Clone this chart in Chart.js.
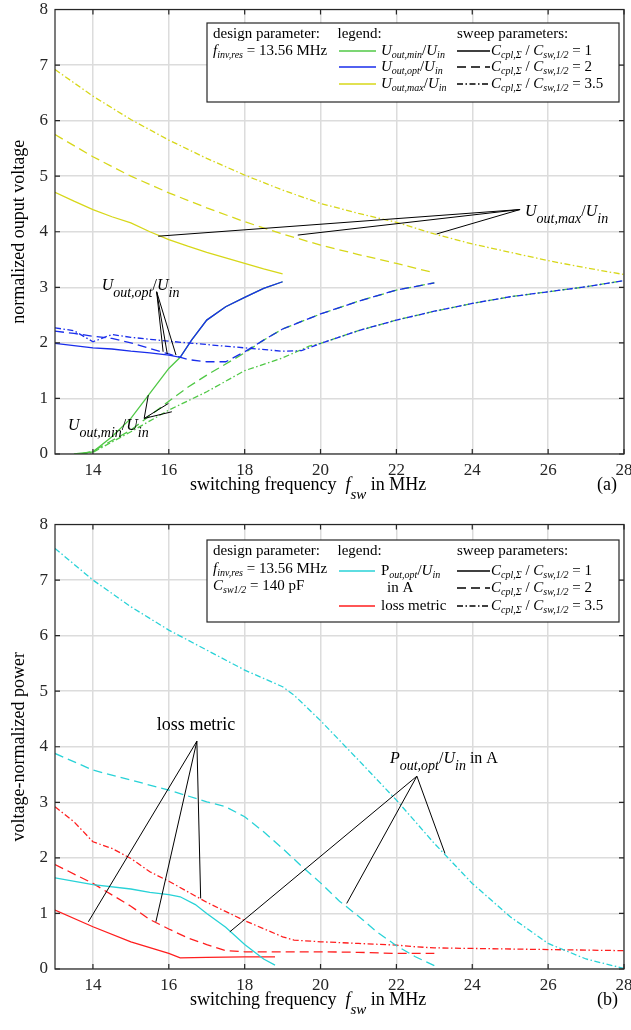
<!DOCTYPE html>
<html>
<head>
<meta charset="utf-8">
<script src="https://cdn.jsdelivr.net/npm/chart.js@4.4.0/dist/chart.umd.min.js"></script>
<style>
html, body { margin: 0; padding: 0; background: #fff; overflow: hidden; }
.box { position: relative; width: 631px; height: 515px; }
</style>
</head>
<body>
<div class="box"><canvas id="chartA"></canvas></div>
<div class="box"><canvas id="chartB"></canvas></div>
<script>
// axis ticks
const freqTicks = [14, 16, 18, 20, 22, 24, 26, 28];
const levelTicks = [0, 1, 2, 3, 4, 5, 6, 7, 8];

// (a) U_out,max / U_in
const umaxF1 = [13, 13.5, 14, 14.5, 15, 15.5, 16, 16.5, 17, 17.5, 18, 18.5, 19];
const umax1 = [4.71, 4.55, 4.40, 4.27, 4.16, 4.00, 3.86, 3.74, 3.63, 3.53, 3.43, 3.33, 3.24];
const umaxF2 = [13, 14, 15, 16, 17, 18, 19, 20, 21, 22, 23];
const umax2 = [5.75, 5.35, 5.00, 4.70, 4.43, 4.18, 3.96, 3.76, 3.59, 3.43, 3.26];
const umaxF35 = [13, 14, 15, 16, 17, 18, 19, 20, 21, 22, 23, 24, 25, 26, 27, 28];
const umax35 = [6.92, 6.44, 6.02, 5.65, 5.32, 5.02, 4.75, 4.51, 4.33, 4.17, 3.96, 3.78, 3.63, 3.48, 3.35, 3.23];

// (a) U_out,opt / U_in
const uoptF1 = [13, 13.5, 14, 14.5, 15, 15.5, 16, 16.3, 16.6, 17, 17.5, 18, 18.5, 19];
const uopt1 = [1.99, 1.95, 1.91, 1.89, 1.85, 1.82, 1.78, 1.74, 2.05, 2.41, 2.65, 2.82, 2.98, 3.10];
const uoptF2 = [13, 13.5, 14, 14.5, 15, 15.5, 16, 16.5, 17, 17.5, 18, 18.5, 19, 20, 21, 22, 23];
const uopt2 = [2.21, 2.17, 2.12, 2.08, 2.00, 1.90, 1.80, 1.70, 1.66, 1.66, 1.84, 2.05, 2.25, 2.52, 2.75, 2.95, 3.08];
const uoptF35 = [13, 13.5, 14, 14.5, 15, 16, 17, 18, 19, 19.5, 20, 21, 22, 23, 24, 25, 26, 27, 28];
const uopt35 = [2.27, 2.22, 2.02, 2.15, 2.10, 2.03, 1.97, 1.91, 1.85, 1.86, 1.99, 2.22, 2.41, 2.57, 2.71, 2.83, 2.92, 3.01, 3.12];

// (a) U_out,min / U_in
const uminF1 = [13.5, 14, 14.5, 15, 15.5, 16, 16.3, 16.6, 17, 17.5, 18, 18.5, 19];
const umin1 = [0.00, 0.04, 0.31, 0.64, 1.09, 1.54, 1.74, 2.05, 2.41, 2.65, 2.82, 2.98, 3.10];
const uminF2 = [13.7, 14, 15, 16, 16.5, 17, 17.5, 18, 18.5, 19, 20, 21, 22, 23];
const umin2 = [0.00, 0.05, 0.43, 0.95, 1.20, 1.42, 1.62, 1.82, 2.05, 2.25, 2.52, 2.75, 2.95, 3.08];
const uminF35 = [13.7, 14, 15, 16, 17, 18, 19, 19.7, 20, 21, 22, 23, 24, 25, 26, 27, 28];
const umin35 = [0.00, 0.03, 0.40, 0.79, 1.12, 1.50, 1.73, 1.94, 1.99, 2.22, 2.41, 2.57, 2.71, 2.83, 2.92, 3.01, 3.12];

// (b) P_out,opt / U_in in A
const poutF1 = [13, 14, 15, 15.5, 16, 16.3, 16.7, 17, 17.5, 18, 18.5, 18.8];
const pout1 = [1.64, 1.52, 1.44, 1.38, 1.34, 1.30, 1.16, 1.00, 0.75, 0.44, 0.18, 0.07];
const poutF2 = [13, 14, 15, 16, 17, 17.5, 18, 18.5, 19, 19.5, 20, 20.5, 21, 21.5, 22, 22.5, 23];
const pout2 = [3.88, 3.58, 3.40, 3.22, 3.01, 2.92, 2.74, 2.47, 2.17, 1.85, 1.55, 1.22, 0.95, 0.66, 0.42, 0.22, 0.06];
const poutF35 = [13, 14, 15, 16, 17, 18, 19, 19.3, 20, 21, 22, 23, 24, 25, 26, 27, 28];
const pout35 = [7.57, 7.00, 6.52, 6.10, 5.74, 5.38, 5.08, 4.93, 4.47, 3.76, 3.04, 2.26, 1.54, 0.94, 0.46, 0.18, 0.01];

// (b) loss metric
const lossF1 = [13, 14, 15, 16, 16.3, 17, 18, 18.8];
const loss1 = [1.06, 0.76, 0.49, 0.28, 0.20, 0.21, 0.22, 0.22];
const lossF2 = [13, 14, 15, 15.5, 16, 16.5, 17, 17.5, 18, 19, 20, 21, 22, 23];
const loss2 = [1.88, 1.54, 1.13, 0.89, 0.72, 0.56, 0.44, 0.33, 0.31, 0.31, 0.31, 0.30, 0.28, 0.28];
const lossF35 = [13, 13.5, 14, 14.5, 15, 15.5, 16, 17, 18, 19, 19.3, 20, 21, 22, 22.5, 23, 24, 25, 26, 27, 28];
const loss35 = [2.92, 2.65, 2.29, 2.17, 1.99, 1.75, 1.58, 1.20, 0.87, 0.58, 0.52, 0.49, 0.46, 0.43, 0.40, 0.38, 0.37, 0.36, 0.35, 0.34, 0.33];

const SERIF = '"Liberation Serif", "DejaVu Serif", serif';
const GREEN = 'rgb(80,200,70)', BLUE = 'rgb(25,45,235)', YELLOW = 'rgb(215,215,25)';
const CYAN = 'rgb(40,210,215)', RED = 'rgb(255,30,30)';
const SOLID = [], DASH = [9, 5], DASHDOT = [6, 2.5, 1.5, 2.5];

function series(xs, ys, color, dash) {
  return {
    data: xs.map((x, i) => ({ x: x, y: ys[i] })),
    borderColor: color, borderDash: dash, borderWidth: 1.3,
    pointRadius: 0, fill: false, tension: 0
  };
}

// draw text made of parts: [text, flags] flags: i = italic, s = subscript
function rich(ctx, x, y, parts, st, align) {
  const fontOf = p => ((p[1] || '').includes('i') ? 'italic ' : '') +
    ((p[1] || '').includes('s') ? st.sub : st.size) + 'px ' + SERIF;
  if (align === 'center') {
    let w = 0;
    parts.forEach(p => { ctx.font = fontOf(p); w += ctx.measureText(p[0]).width; });
    x -= w / 2;
  }
  ctx.textAlign = 'left';
  ctx.textBaseline = 'alphabetic';
  parts.forEach(p => {
    ctx.font = fontOf(p);
    ctx.fillText(p[0], x, y + ((p[1] || '').includes('s') ? st.dy : 0));
    x += ctx.measureText(p[0]).width;
  });
  return x;
}

const LEG = { size: 15, sub: 10, dy: 3 };
const NOTE = { size: 16, sub: 14, dy: 7 };
const AXT = { size: 18, sub: 15, dy: 9 };

const ratioText = v => [['C', 'i'], ['cpl,\u03A3', 'is'], [' / '], ['C', 'i'], ['sw,1/2', 'is'], [' = ' + v]];
const uText = s => [['U', 'i'], ['out,' + s, 'is'], ['/'], ['U', 'i'], ['in', 'is']];

function line(ctx, x1, x2, y, color, dash) {
  ctx.save();
  ctx.strokeStyle = color; ctx.lineWidth = 1.3; ctx.setLineDash(dash);
  ctx.beginPath(); ctx.moveTo(x1, y); ctx.lineTo(x2, y); ctx.stroke();
  ctx.restore();
}

function decor(cfg) {
  return {
    id: 'decor',
    afterDatasetsDraw(chart) {
      const ctx = chart.ctx, a = chart.chartArea, x = chart.scales.x, y = chart.scales.y;
      ctx.save();
      // frame with inner ticks
      ctx.strokeStyle = '#262626'; ctx.lineWidth = 1.2;
      ctx.strokeRect(a.left, a.top, a.right - a.left, a.bottom - a.top);
      ctx.beginPath();
      freqTicks.forEach(v => {
        const px = x.getPixelForValue(v);
        ctx.moveTo(px, a.bottom); ctx.lineTo(px, a.bottom - 5);
        ctx.moveTo(px, a.top); ctx.lineTo(px, a.top + 5);
      });
      levelTicks.forEach(v => {
        const py = y.getPixelForValue(v);
        ctx.moveTo(a.left, py); ctx.lineTo(a.left + 5, py);
        ctx.moveTo(a.right, py); ctx.lineTo(a.right - 5, py);
      });
      ctx.stroke();

      // annotation leaders and labels
      ctx.strokeStyle = '#000'; ctx.fillStyle = '#000'; ctx.lineWidth = 1;
      cfg.notes.forEach(n => {
        const tx = x.getPixelForValue(n.tip[0]), ty = y.getPixelForValue(n.tip[1]);
        n.ends.forEach(e => {
          ctx.beginPath(); ctx.moveTo(tx, ty);
          ctx.lineTo(x.getPixelForValue(e[0]), y.getPixelForValue(e[1]));
          ctx.stroke();
        });
        rich(ctx, x.getPixelForValue(n.at[0]), y.getPixelForValue(n.at[1]), n.text, n.style || NOTE, n.align);
      });

      // legend box
      const b = cfg.box;
      ctx.fillStyle = '#fff';
      ctx.fillRect(b[0], b[1], b[2], b[3]);
      ctx.strokeStyle = '#262626'; ctx.lineWidth = 1.2;
      ctx.strokeRect(b[0], b[1], b[2], b[3]);
      ctx.fillStyle = '#000';
      cfg.legend(ctx);

      // axis titles
      ctx.fillStyle = '#000';
      rich(ctx, 190, 490, [['switching frequency  '], ['f', 'i'], ['sw', 'is'], [' in MHz']], AXT);
      rich(ctx, 597, 490, [[cfg.tag]], AXT);
      ctx.save();
      ctx.translate(24, (a.top + a.bottom) / 2);
      ctx.rotate(-Math.PI / 2);
      rich(ctx, 0, 0, [[cfg.yTitle]], AXT, 'center');
      ctx.restore();
      ctx.restore();
    }
  };
}

function options() {
  return {
    responsive: true,
    maintainAspectRatio: false,
    animation: false,
    devicePixelRatio: 1,
    events: [],
    layout: { padding: { top: 9.5, right: 7, left: 0, bottom: 0 } },
    plugins: { legend: { display: false }, tooltip: { enabled: false } },
    scales: {
      x: {
        type: 'linear', min: 13, max: 28,
        afterBuildTicks: s => { s.ticks = freqTicks.map(v => ({ value: v })); },
        afterFit: s => { s.height = 61; s.paddingLeft = 0; s.paddingRight = 0; },
        grid: { color: '#dcdcdc', lineWidth: 1.5, drawTicks: false },
        border: { display: false },
        ticks: { padding: 6, color: '#262626', font: { family: SERIF, size: 17 }, maxRotation: 0 }
      },
      y: {
        type: 'linear', min: 0, max: 8,
        afterBuildTicks: s => { s.ticks = levelTicks.map(v => ({ value: v })); },
        afterFit: s => { s.width = 55; s.paddingTop = 0; s.paddingBottom = 0; },
        grid: { color: '#dcdcdc', lineWidth: 1.5, drawTicks: false },
        border: { display: false },
        ticks: { padding: 7, color: '#262626', font: { family: SERIF, size: 17 } }
      }
    }
  };
}

new Chart(document.getElementById('chartA'), {
  type: 'line',
  data: {
    datasets: [
      series(uoptF1, uopt1, BLUE, SOLID),
      series(uoptF2, uopt2, BLUE, DASH),
      series(uoptF35, uopt35, BLUE, DASHDOT),
      series(uminF1, umin1, GREEN, SOLID),
      series(uminF2, umin2, GREEN, DASH),
      series(uminF35, umin35, GREEN, DASHDOT),
      series(umaxF1, umax1, YELLOW, SOLID),
      series(umaxF2, umax2, YELLOW, DASH),
      series(umaxF35, umax35, YELLOW, DASHDOT)
    ]
  },
  options: options(),
  plugins: [decor({
    tag: '(a)',
    yTitle: 'normalized ouput voltage',
    box: [207, 23, 412, 79],
    notes: [
      { tip: [25.26, 4.40], ends: [[15.72, 3.92], [19.40, 3.94], [23.06, 3.96]], at: [25.39, 4.28], text: uText('max') },
      { tip: [15.68, 2.92], ends: [[15.85, 1.84], [15.96, 1.80], [16.19, 1.78]], at: [14.23, 2.95], text: uText('opt') },
      { tip: [15.35, 0.64], ends: [[15.46, 1.06], [15.99, 0.91], [16.08, 0.76]], at: [13.34, 0.43], text: uText('min') }
    ],
    legend: ctx => {
      rich(ctx, 213, 38, [['design parameter:']], LEG);
      rich(ctx, 213, 55, [['f', 'i'], ['inv,res', 'is'], [' = 13.56 MHz']], LEG);
      rich(ctx, 337.5, 38, [['legend:']], LEG);
      rich(ctx, 457, 38, [['sweep parameters:']], LEG);
      const rows = [51, 67, 84], base = [55, 71, 88];
      [GREEN, BLUE, YELLOW].forEach((c, i) => line(ctx, 339, 376, rows[i], c, SOLID));
      ['min', 'opt', 'max'].forEach((s, i) => rich(ctx, 381, base[i], uText(s), LEG));
      [SOLID, DASH, DASHDOT].forEach((d, i) => line(ctx, 457, 490, rows[i], '#000', d));
      ['1', '2', '3.5'].forEach((v, i) => rich(ctx, 491, base[i], ratioText(v), LEG));
    }
  })]
});

new Chart(document.getElementById('chartB'), {
  type: 'line',
  data: {
    datasets: [
      series(poutF1, pout1, CYAN, SOLID),
      series(poutF2, pout2, CYAN, DASH),
      series(poutF35, pout35, CYAN, DASHDOT),
      series(lossF1, loss1, RED, SOLID),
      series(lossF2, loss2, RED, DASH),
      series(lossF35, loss35, RED, DASHDOT)
    ]
  },
  options: options(),
  plugins: [decor({
    tag: '(b)',
    yTitle: 'voltage-normalized power',
    box: [207, 25, 412, 82],
    notes: [
      { tip: [16.74, 4.10], ends: [[13.88, 0.85], [15.66, 0.85], [16.84, 1.27]], at: [16.72, 4.30],
        text: [['loss metric']], style: { size: 18, sub: 14, dy: 7 }, align: 'center' },
      { tip: [22.54, 3.47], ends: [[17.61, 0.67], [20.69, 1.18], [23.28, 2.08]], at: [21.83, 3.71],
        text: [['P', 'i'], ['out,opt', 'is'], ['/'], ['U', 'i'], ['in', 'is'], [' in A']] }
    ],
    legend: ctx => {
      rich(ctx, 213, 39.5, [['design parameter:']], LEG);
      rich(ctx, 213, 57.5, [['f', 'i'], ['inv,res', 'is'], [' = 13.56 MHz']], LEG);
      rich(ctx, 213, 75, [['C', 'i'], ['sw1/2', 'is'], [' = 140 pF']], LEG);
      rich(ctx, 337.5, 39.5, [['legend:']], LEG);
      rich(ctx, 457, 39.5, [['sweep parameters:']], LEG);
      line(ctx, 339, 375, 56, CYAN, SOLID);
      rich(ctx, 381, 60, [['P'], ['out,opt', 'is'], ['/'], ['U', 'i'], ['in', 'is']], LEG);
      rich(ctx, 387, 77, [['in A']], LEG);
      line(ctx, 339, 375, 91, RED, SOLID);
      rich(ctx, 381, 95, [['loss metric']], LEG);
      const rows = [56, 73, 91], base = [60, 77, 95];
      [SOLID, DASH, DASHDOT].forEach((d, i) => line(ctx, 457, 490, rows[i], '#000', d));
      ['1', '2', '3.5'].forEach((v, i) => rich(ctx, 491, base[i], ratioText(v), LEG));
    }
  })]
});
</script>
</body>
</html>
